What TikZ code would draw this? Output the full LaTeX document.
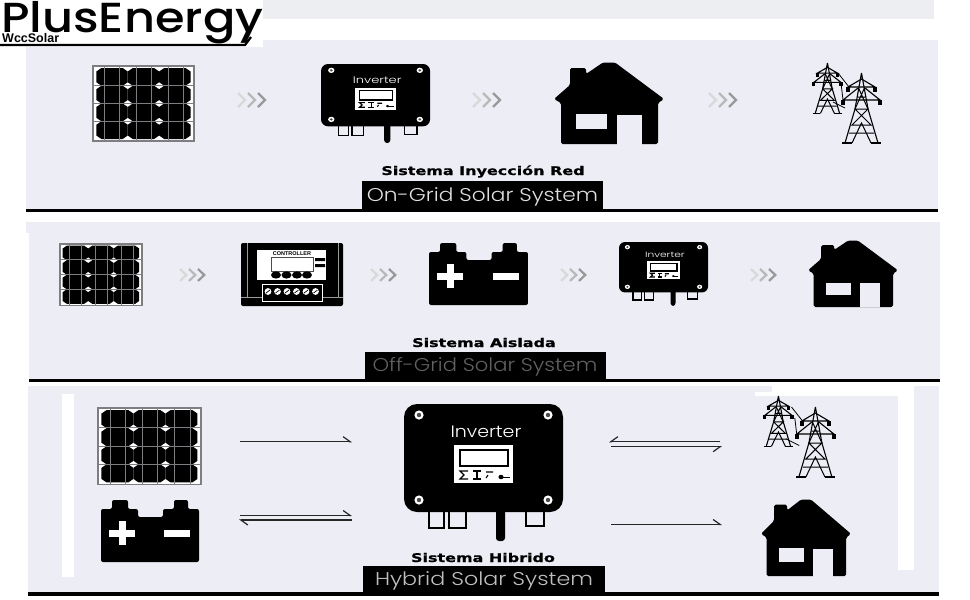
\documentclass[tikz,border=0pt]{standalone}
\usepackage{fontspec}
\usepackage{xcolor}
\usetikzlibrary{arrows.meta}
\newfontfamily\logofont{Poppins Medium}
\newfontfamily\smallfont{Liberation Sans}
\newfontfamily\capfont{Poppins Light}
\newfontfamily\heavyfont[BoldFeatures={FakeBold=0.7}]{DejaVu Sans}
\definecolor{panelbg}{RGB}{236,237,245}
\definecolor{topbg}{RGB}{236,238,242}
\definecolor{linegray}{RGB}{125,125,130}
\begin{document}
\begin{tikzpicture}[x=1pt,y=-1pt,
  sistema/.style={anchor=base, font=\heavyfont\bfseries\fontsize{12}{12}\selectfont, xscale=1.33, transform shape},
  caption/.style={anchor=base, font=\capfont\fontsize{18.5}{18.5}\selectfont, transform shape},
  flow/.style={draw=black!85, line width=1.2pt},
  flowr/.style={flow, -{Straight Barb[right,length=7pt,width=10pt]}},
  flowl/.style={flow, -{Straight Barb[left,length=7pt,width=10pt]}},
  chevrons/.pic={
    \draw [gray!30, line width=2.2pt] (0,0) -- (7,7) -- (0,14);
    \draw [gray!55, line width=2.2pt] (10,0) -- (17,7) -- (10,14);
    \draw [gray!80, line width=2.2pt] (20,0) -- (27,7) -- (20,14);
  },
  pvpanel/.pic={
    \draw [linegray, fill=white, line width=1.3pt] (0,0) rectangle (100,75);
    \foreach \i in {0,1,2} \foreach \j in {0,1,2,3} {
      \fill ({8.3+\i*31.1},{2+\j*17.75}) -- ++(21.1,0) -- ++(5,3.5) -- ++(0,10.75) -- ++(-5,3.5)
        -- ++(-21.1,0) -- ++(-5,-3.5) -- ++(0,-10.75) -- cycle;
    }
    \foreach \x in {11.6,26.5,43,58,74.5,89.4} \draw [linegray, line width=.8pt] (\x,0) -- (\x,75);
    \foreach \y in {19,37.3,55.5} \draw [linegray, line width=.8pt] (0,\y) -- (100,\y);
  },
  inverter/.pic={
    \draw [line width=1.3pt, fill=panelbg] (25,100) rectangle (40,124);
    \draw [line width=1.3pt, fill=panelbg] (45,100) rectangle (62,124);
    \draw [line width=1.3pt, fill=panelbg] (122,100) rectangle (140,122);
    \fill [rounded corners=3pt] (92,100) rectangle (101,137);
    \fill [rounded corners=#1] (0,0) rectangle (159,108);
    \foreach \x/\y in {15/11,144/11,15/96,144/96} {
      \fill [white] (\x,\y) ellipse (4.6 and 4.6);
      \fill [black!70] (\x,\y) ellipse (2.2 and 2.2);
    }
    \node [transform shape, xscale=1.15, text=white, font=\capfont\fontsize{16.5}{16.5}\selectfont] (-label) at (82,28) {Inverter};
    \fill [white] (50,41) rectangle (109,79);
    \draw [line width=1.6pt, fill=white] (56,46) rectangle (104,62);
    \draw [line width=1.1pt] (64,67) -- (56,67) -- (60,71) -- (56,75) -- (64,75);
    \draw [line width=1.1pt] (69,67) -- (77,67) (73,67) -- (73,75) (69,75) -- (77,75);
    \draw [line width=1.1pt] (82,68) -- (89,68) (84,71) -- (82,74);
    \fill (97,73) ellipse (2.6 and 2.2);
    \draw [line width=1pt] (97,73) -- (106,73);
  },
  house/.pic={
    \fill [rounded corners=1.6pt] (7,81) -- (7,40) -- (0,36) -- (16,22) -- (16,5) -- (32,5) -- (32,11)
      -- (49,-.5) -- (61,-.5) -- (110,36) -- (104,40) -- (104,81) -- cycle;
    \fill [panelbg] (22,51) rectangle (53,66);
    \fill [panelbg] (63,52) rectangle (88,81.5);
  },
  battery/.pic={
    \fill [rounded corners=2pt] (0,62) -- (0,9) -- (11,9) -- (11,0) -- (27,0) -- (27,9) -- (37,9) -- (37,17)
      -- (62,17) -- (62,9) -- (73,9) -- (73,0) -- (87,0) -- (87,9) -- (98,9) -- (98,62) -- cycle;
    \fill [white] (8,30) rectangle (34,37);
    \fill [white] (17.5,21) rectangle (24.5,45);
    \fill [white] (63,30) rectangle (89,37);
  },
  controller/.pic={
    \fill [rounded corners=2pt] (0,0) rectangle (102,63);
    \draw [gray!80, line width=.7pt] (6,0) -- (6,54) (97,0) -- (97,54) (0,54) -- (102,54);
    \fill [white] (16,7) rectangle (85,37);
    \node [transform shape, inner sep=0pt, font=\smallfont\bfseries\fontsize{5.5}{5.5}\selectfont] (-label) at (51,11) {CONTROLLER};
    \draw [black!70, line width=.8pt, fill=white] (30,14) rectangle (72,28);
    \fill (74,15) rectangle (84,18) (74,21) rectangle (84,24);
    \foreach \x in {35,45.5,56,66} \fill (\x,32) ellipse (5 and 3.6);
    \draw [white, line width=.8pt, fill=black] (21,41) rectangle (81,58);
    \foreach \x in {27,36.5,46,55.5,65,74.5} {
      \fill [white] (\x,48.5) circle (3.4);
      \draw [line width=.7pt] (\x-2,50) -- (\x+2,47);
    }
  },
  lattice/.pic={
    \draw [line width=1.1pt, line join=round] (19.5,0) -- (13,36) -- (3,70) (19.5,0) -- (26,36) -- (36,70);
    \draw [line width=1.4pt] (0,70) -- (10,70) (29,70) -- (39,70);
    \draw [line width=1pt] (10,70) -- (19.5,50) -- (29,70);
    \draw [line width=1pt] (13,36) -- (26,36) -- (10,52) -- (29,52) -- (13,36) (7,60) -- (32,60);
    \draw [line width=1pt] (16.5,15) -- (26,36) (22.5,15) -- (13,36) (15.5,24) -- (23.5,24);
    \draw [line width=1.1pt] (19.5,6) -- (6,14) -- (33,14) -- cycle;
    \draw [line width=1.1pt] (16,15) -- (1,27) -- (38,27) -- (23,15);
    \foreach \x/\y in {6/14,33/14,1/27,38/27} \draw [line width=3.4pt] (\x,\y) -- (\x,\y+5);
  },
  powerlines/.pic={
    \pic [xscale=.74, yscale=.72] at (0,0) {lattice};
    \pic at (29,10) {lattice};
    \draw [line width=.8pt] (25,10) -- (36,24) (28,20) -- (30,37) (20,39) -- (32,45);
  }]

\useasboundingbox (0,0) rectangle (970,600);
\fill [white] (0,0) rectangle (970,600);

\fill [topbg] (263,0) rectangle (934,19);
\fill [panelbg] (26,40) rectangle (938,209);
\fill [panelbg] (26,222) rectangle (940,233);
\fill [panelbg] (29,233) rectangle (940,379);
\fill [panelbg] (28,386) rectangle (939,592);
\fill [white] (62,394) rectangle (74,577);
\fill [white] (898,385) rectangle (914,570);
\fill [white] (772,385) rectangle (914,392);
\fill [white] (755,392) rectangle (914,396);

\fill (26,208.5) rectangle (938,212);
\fill (29,378.5) rectangle (940,382);
\fill (28,592) rectangle (939,595.5);

\fill [white] (0,0) rectangle (263,47);
\node [anchor=base west, inner sep=0pt, xscale=1.14, transform shape, font=\logofont\fontsize{42}{42}\selectfont] (logo) at (1,32) {PlusEnergy};
\node [anchor=base west, inner sep=0pt, font=\smallfont\bfseries\fontsize{12.5}{12.5}\selectfont] (logosub) at (2,42) {WccSolar};
\draw [line width=2.2pt] (0,45) -- (245,45) -- (251,37);

\pic at (93,66) [xscale=1.01] {pvpanel};
\pic at (238,93) {chevrons};
\pic (inva) at (321,64) [xscale=.686, yscale=.577] {inverter=7pt};
\pic at (473,93) {chevrons};
\pic at (554,63) {house};
\pic at (709,93) {chevrons};
\pic at (813,63) {powerlines};
\node [sistema] (laba) at (483,175) {Sistema Inyección Red};
\fill (362,181) rectangle (603,210);
\node [caption, xscale=1.175, text=white!88!black] (capa) at (482.5,201.5) {On-Grid Solar System};

\pic at (60,244) [xscale=.82, yscale=.82] {pvpanel};
\pic at (180,269) [xscale=.9, yscale=.85] {chevrons};
\pic (ctrl) at (241,243) {controller};
\pic at (371,269) [xscale=.9, yscale=.85] {chevrons};
\pic at (429,243) [xscale=1.01] {battery};
\pic at (561,269) [xscale=.9, yscale=.85] {chevrons};
\pic (invb) at (619,242) [xscale=.56, yscale=.467] {inverter=6pt};
\pic at (751,269) [xscale=.9, yscale=.85] {chevrons};
\pic at (808,241) [xscale=.818, yscale=.815] {house};
\node [sistema] (labb) at (484,347) {Sistema Aislada};
\fill (365,352) rectangle (606,381);
\node [caption, xscale=1.14, text=black!62] (capb) at (485,371.5) {Off-Grid Solar System};

\pic at (98,408) [xscale=1.03, yscale=1.02] {pvpanel};
\pic at (101,500) {battery};
\pic (invc) at (404,404) {inverter=13pt};
\pic at (764,396) [xscale=1.1, yscale=1.1] {powerlines};
\pic at (761,500) [xscale=.818, yscale=.94] {house};
\node [sistema] (labc) at (483,562) {Sistema Hibrido};
\fill (363,566) rectangle (605,595);
\node [caption, xscale=1.2, text=white!75!black] (capc) at (484,585.5) {Hybrid Solar System};

\coordinate (pvout) at (240,441.7);
\coordinate (invpv) at (352,441.7);
\coordinate (batout) at (240,515.5);
\coordinate (invbat) at (352,515.5);
\coordinate (batin) at (239,520);
\coordinate (invbatout) at (352,520);
\coordinate (gridin) at (609,441.7);
\coordinate (gridfrom) at (720,441.7);
\coordinate (gridout) at (611,446.7);
\coordinate (gridto) at (722,446.7);
\coordinate (loadout) at (611,524.5);
\coordinate (loadin) at (722,524.5);

\draw [flowl] (pvout) -- (invpv);
\draw [flowl] (batout) -- (invbat);
\draw [flowl] (invbatout) -- (batin);
\draw [flowr] (gridfrom) -- (gridin);
\draw [flowr] (gridout) -- (gridto);
\draw [flowl] (loadout) -- (loadin);

\end{tikzpicture}
\end{document}
